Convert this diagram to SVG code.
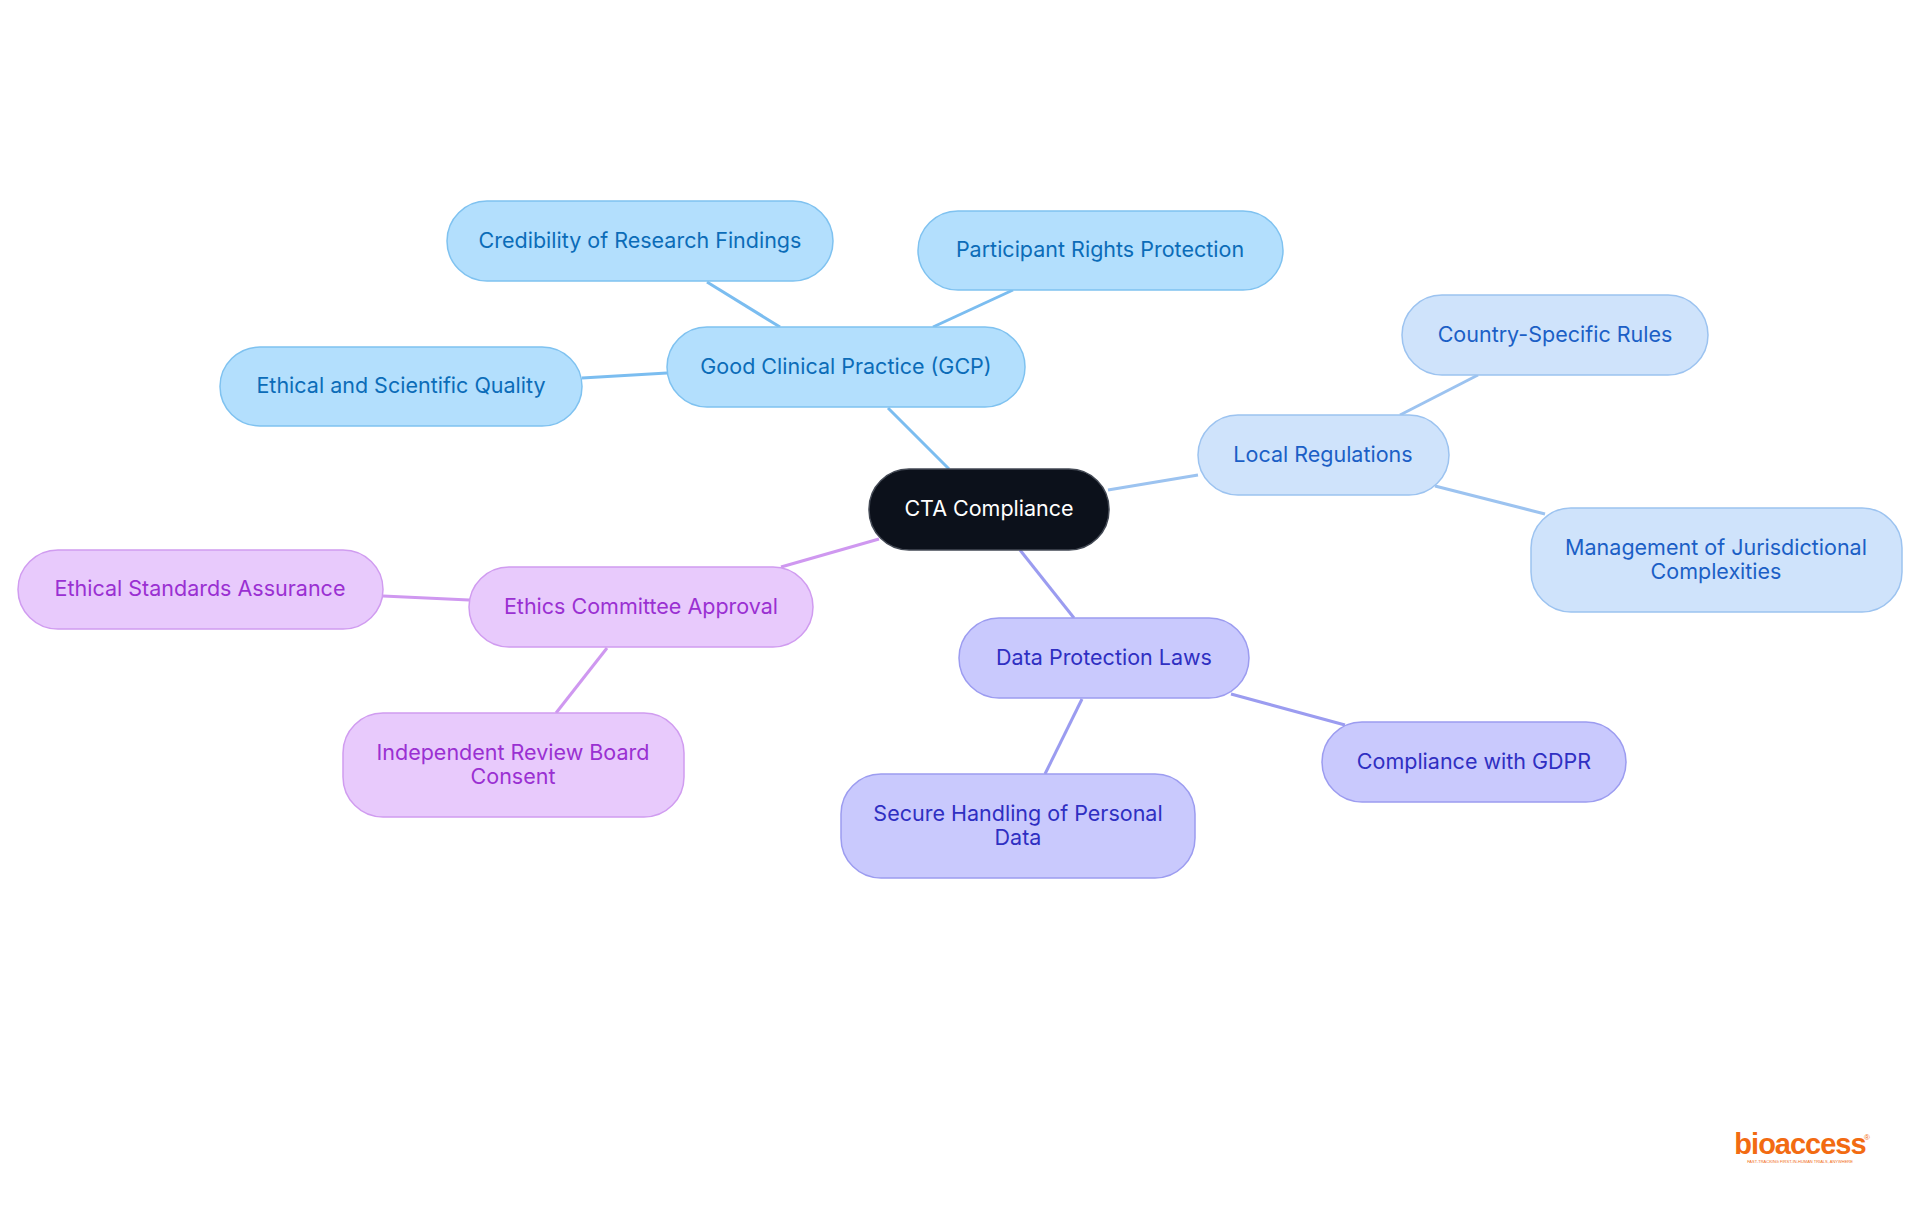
<svg xmlns="http://www.w3.org/2000/svg" width="1920" height="1215" viewBox="0 0 1920 1215">
<style>
text{font-family:Inter,"Noto Sans",sans-serif;font-size:21.5px;text-anchor:middle;dominant-baseline:central}
.b rect{fill:#b3dffd;stroke:#7fc2f0;stroke-width:1.5}.b text{fill:#0b6cb8}
.l rect{fill:#cfe3fb;stroke:#9cc3f0;stroke-width:1.5}.l text{fill:#1b5fc6}
.d rect{fill:#c9c9fd;stroke:#9c9cf0;stroke-width:1.5}.d text{fill:#2f2fc2}
.e rect{fill:#e8cafc;stroke:#d09cf0;stroke-width:1.5}.e text{fill:#9a30d2}
#conn line{stroke-width:3}
#logo text{dominant-baseline:auto;fill:#f26b12;font-family:"Liberation Sans",sans-serif}
</style>
<rect width="1920" height="1215" fill="#fff"/>
<g id="conn">
<g stroke="#7bbdf0"><line x1="888" y1="408" x2="949" y2="469"/><line x1="707" y1="282" x2="780" y2="327"/><line x1="1013" y1="290" x2="933" y2="327"/><line x1="582" y1="378" x2="667" y2="373"/></g>
<g stroke="#9cc3f0"><line x1="1108" y1="490" x2="1198" y2="475"/><line x1="1478" y1="375" x2="1400" y2="415"/><line x1="1545" y1="514" x2="1435" y2="486"/></g>
<g stroke="#9b9cf0"><line x1="1020" y1="550" x2="1074" y2="618"/><line x1="1231" y1="694" x2="1345" y2="725"/><line x1="1082" y1="699" x2="1045" y2="774"/></g>
<g stroke="#cf98f0"><line x1="879" y1="539" x2="781" y2="567"/><line x1="383" y1="596" x2="469" y2="600"/><line x1="607" y1="648" x2="556" y2="713"/></g>
</g>
<g id="cta"><rect x="869" y="469" width="240" height="81" rx="40" fill="#0c111b" stroke="#444a55" stroke-width="1.5"/><text x="989" y="508" fill="#fff">CTA Compliance</text></g>
<g id="gcp" class="b"><rect x="667" y="327" width="358" height="80" rx="40"/><text x="846" y="366">Good Clinical Practice (GCP)</text></g>
<g id="cred" class="b"><rect x="447" y="201" width="386" height="80" rx="40"/><text x="640" y="240">Credibility of Research Findings</text></g>
<g id="part" class="b"><rect x="918" y="211" width="365" height="79" rx="40"/><text x="1100" y="249">Participant Rights Protection</text></g>
<g id="ethq" class="b"><rect x="220" y="347" width="362" height="79" rx="40"/><text x="401" y="385">Ethical and Scientific Quality</text></g>
<g id="local" class="l"><rect x="1198" y="415" width="251" height="80" rx="40"/><text x="1323" y="454">Local Regulations</text></g>
<g id="country" class="l"><rect x="1402" y="295" width="306" height="80" rx="40"/><text x="1555" y="334">Country-Specific Rules</text></g>
<g id="mgmt" class="l"><rect x="1531" y="508" width="371" height="104" rx="40"/><text x="1716" y="547">Management of Jurisdictional</text><text x="1716" y="571">Complexities</text></g>
<g id="data" class="d"><rect x="959" y="618" width="290" height="80" rx="40"/><text x="1104" y="657">Data Protection Laws</text></g>
<g id="gdpr" class="d"><rect x="1322" y="722" width="304" height="80" rx="40"/><text x="1474" y="761">Compliance with GDPR</text></g>
<g id="secure" class="d"><rect x="841" y="774" width="354" height="104" rx="40"/><text x="1018" y="813">Secure Handling of Personal</text><text x="1018" y="837">Data</text></g>
<g id="ethics" class="e"><rect x="469" y="567" width="344" height="80" rx="40"/><text x="641" y="606">Ethics Committee Approval</text></g>
<g id="ethstd" class="e"><rect x="18" y="550" width="365" height="79" rx="40"/><text x="200" y="588">Ethical Standards Assurance</text></g>
<g id="irb" class="e"><rect x="343" y="713" width="341" height="104" rx="40"/><text x="513" y="752">Independent Review Board</text><text x="513" y="776">Consent</text></g>
<g id="logo"><text x="1800" y="1154" style="font-size:29px;font-weight:700;letter-spacing:-1px">bioaccess</text><text x="1867" y="1140" style="font-size:8px">®</text><text x="1800" y="1163" style="font-size:4px">FAST-TRACKING FIRST-IN-HUMAN TRIALS, ANYWHERE</text></g>
</svg>
